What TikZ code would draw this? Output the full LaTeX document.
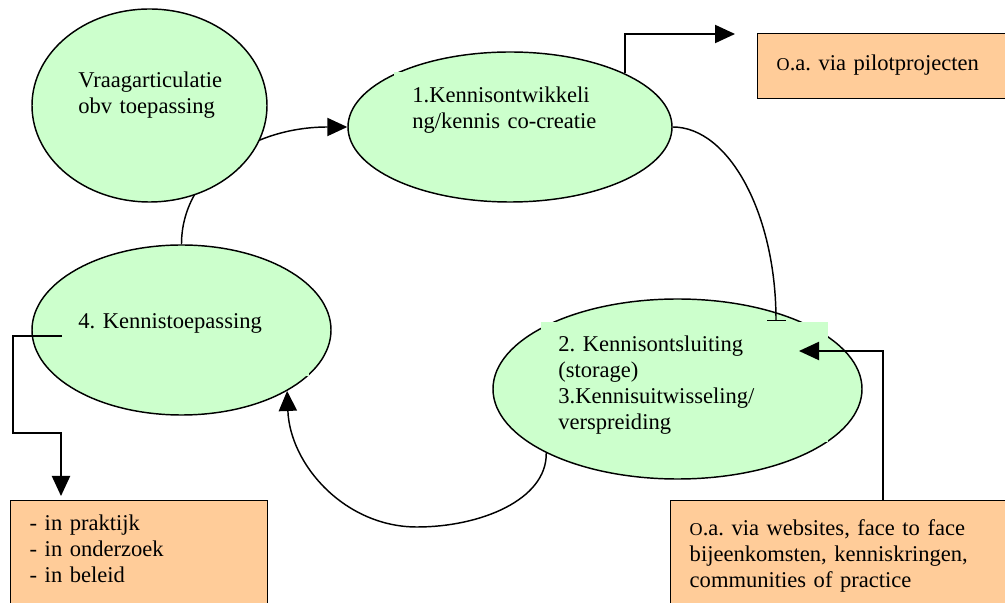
\documentclass[tikz,border=0pt]{standalone}
\usepackage{graphicx}
\usepackage{fontspec}
\setmainfont{Liberation Serif}
\usetikzlibrary{shapes.geometric,arrows.meta}
\definecolor{paleGreen}{rgb}{0.8, 1.0, 0.8}
\definecolor{paleOrange}{rgb}{1.0, 0.8, 0.6}
\newcommand{\px}{0.55pt}
\newcommand{\smallO}{\scalebox{0.8}{O}}
\frenchspacing

\tikzset{
    stage/.style={ellipse, draw, line width=0.8pt, fill=paleGreen, inner sep=0pt},
    patch/.style={anchor=north west, fill=paleGreen, inner ysep=0pt, align=left,
        font=\fontsize{12.4pt}{14.3pt}\selectfont\frenchspacing},
    notebox/.style={anchor=north west, draw, line width=0.8pt, fill=paleOrange,
        inner xsep=19*\px, inner ysep=0pt, align=left,
        font=\fontsize{12.4pt}{14.3pt}\selectfont\frenchspacing},
    flow/.style={line width=0.8pt, -{Triangle[length=11pt, width=10pt]}},
    stopline/.style={line width=0.8pt, -{Bar[width=19*\px]}}
}

\begin{document}
\begin{tikzpicture}[x=\px, y=-\px]
    \useasboundingbox (0,0) rectangle (1005,603);

    % stages
    \node[stage, minimum width=324*\px, minimum height=150*\px] (develop) at (510,127) {};
    \node[stage, minimum width=299*\px, minimum height=170*\px] (apply) at (181.5,330) {};
    \node[stage, minimum width=369*\px, minimum height=180*\px] (store) at (677.5,389) {};

    % text patches
    \node[patch, inner xsep=18*\px, text width=182*\px, text height=30*\px, text depth=58*\px]
        (developtext) at (394,72) {\mbox{1.Kennisontwikkeli}\\\mbox{ng/kennis co-creatie}};
    \node[patch, inner xsep=16*\px, text width=215*\px, text height=33*\px, text depth=48*\px]
        (applytext) at (62,295) {4. Kennistoepassing};
    \node[patch, inner xsep=17*\px, text width=253*\px, text height=29*\px, text depth=91*\px]
        (storetext) at (541,322) {2. Kennisontsluiting\\(storage)\\3.Kennisuitwisseling/\\verspreiding};

    % cycle 4 -> 1 (runs behind the demand stage)
    \draw[flow] (apply.north) .. controls (181.5,175) and (250,127) .. (develop.west);

    \node[stage, minimum width=235*\px, minimum height=193*\px] (demand) at (149.5,105.5) {};
    \node[patch, inner xsep=16*\px, text width=156*\px, text height=27*\px, text depth=63*\px]
        (demandtext) at (62,60) {Vraagarticulatie\\obv toepassing};

    % notes
    \node[notebox, text width=225*\px, text height=37*\px, text depth=28*\px]
        (pilot) at (757,33) {\smallO.a. via pilotprojecten};
    \node[notebox, text width=219*\px, text height=30*\px, text depth=120*\px]
        (domains) at (10,500) {- in praktijk\\- in onderzoek\\- in beleid};
    \node[notebox, text width=312*\px, text height=35*\px, text depth=90*\px]
        (channels) at (670,500) {\smallO.a. via websites, face to face\\bijeenkomsten, kenniskringen,\\communities of practice};

    % connector ends
    \coordinate (pilotin) at (735,34);
    \coordinate (storebar) at (776,321);
    \coordinate (storein) at (799,351);
    \coordinate (channelsout) at (883,500);
    \coordinate (applyout) at (62,336);
    \coordinate (domainsin) at (61,496);

    % cycle 1 -> 2 -> 4
    \draw[stopline] (develop.east) .. controls (729,127) and (776,214) .. (storebar);
    \draw[flow] (store.206) .. controls (547,500) and (480,527) .. (417,527)
        .. controls (345,527) and (290,465) .. (apply.330);

    % notes to stages
    \draw[flow] (develop.25) |- (pilotin);
    \draw[flow] (channelsout) |- (storein);
    \draw[flow] (applyout) -| (13,433) -| (domainsin);
\end{tikzpicture}
\end{document}
